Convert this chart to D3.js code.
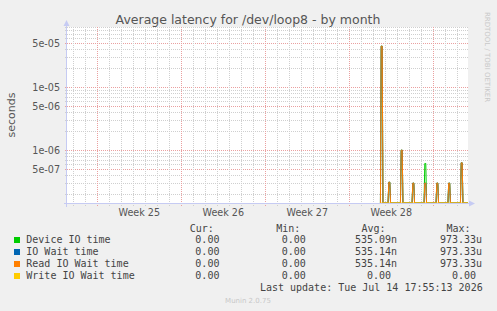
<!DOCTYPE html>
<html lang="en">
<head>
  <meta charset="UTF-8">
  <title>Average latency for /dev/loop8 - by month</title>
  <style>
    body { margin: 0; background: #f0f0f0; }
    svg { display: block; }
    .mono { font-family: "DejaVu Sans Mono", monospace; white-space: pre; }
    .sans { font-family: "DejaVu Sans", sans-serif; }
  </style>
</head>
<body>
  <script src="https://cdn.jsdelivr.net/npm/d3@7"></script>
  <script>
    // samples (one spike per entry), values in seconds
    const spikeTimes = ["2026-07-08T16:48Z", "2026-07-09T08:00Z", "2026-07-10T08:48Z", "2026-07-11T08:00Z",
                        "2026-07-12T08:00Z", "2026-07-13T08:00Z", "2026-07-14T07:48Z", "2026-07-15T08:48Z"];
    const deviceIO  = [4.47e-5, 3.1e-7, 1.0e-6, 3.0e-7, 6.15e-7, 3.0e-7, 3.0e-7, 6.3e-7];
    const ioWait    = [4.47e-5, 3.1e-7, 1.0e-6, 3.0e-7, 3.0e-7, 3.0e-7, 3.0e-7, 6.3e-7];
    const readWait  = [4.47e-5, 3.1e-7, 1.0e-6, 3.0e-7, 3.0e-7, 3.0e-7, 3.0e-7, 6.3e-7];
    const writeWait = [0, 0, 0, 0, 0, 0, 0, 0];
    const dataStart = "2026-07-08T14:00Z";
    const dataEnd = "2026-07-15T21:24Z";

    const seriesNames = ["Device IO time", "IO Wait time", "Read IO Wait time", "Write IO Wait time"];
    const seriesColors = ["#00cc00", "#0066b3", "#ff8000", "#ffcc00"];
    const curVals = [0, 0, 0, 0];
    const minVals = [0, 0, 0, 0];
    const avgVals = [535.09e-9, 535.14e-9, 535.14e-9, 0];
    const maxVals = [973.33e-6, 973.33e-6, 973.33e-6, 0];

    const yTickLabels = [5e-5, 1e-5, 5e-6, 1e-6, 5e-7];
    const yDomain = [1.45e-7, 9.0e-5];
    const xDomain = ["2026-06-12T11:24Z", "2026-07-15T21:24Z"];

    function chart() {
      const W = 497, H = 311;
      const pl = 67, pr = 468, pt = 27, pb = 203;
      const gridMinor = "#cfcfcf", gridMajor = "#eaa0a0", axisColor = "#c6cbf3";

      const svg = d3.select("body").append("svg").attr("width", W).attr("height", H);
      svg.append("rect").attr("width", W).attr("height", H).attr("fill", "#f0f0f0");
      svg.append("rect").attr("x", pl).attr("y", pt).attr("width", pr - pl)
        .attr("height", pb - pt).attr("fill", "#fff");

      const x = d3.scaleUtc().domain(xDomain.map(d => new Date(d))).range([pl, pr]);
      const y = d3.scaleLog().domain(yDomain).range([pb, pt]).clamp(true);
      const yv = v => v > 0 ? y(v) : pb;

      // horizontal grid
      const minorY = [];
      for (let e = -7; e <= -4; e++) {
        for (let k = 1; k <= 9; k++) {
          const v = k * Math.pow(10, e);
          if (v >= yDomain[0] && v <= yDomain[1]) minorY.push(v);
        }
      }
      const isMajor = v => yTickLabels.some(t => Math.abs(t - v) / t < 1e-6);
      const grid = svg.append("g").attr("stroke-dasharray", "1,1").attr("stroke-width", 1);
      grid.selectAll("line.hy").data(minorY).enter().append("line")
        .attr("x1", pl - 2).attr("x2", pr)
        .attr("y1", d => Math.round(y(d)) + 0.5).attr("y2", d => Math.round(y(d)) + 0.5)
        .attr("stroke", d => isMajor(d) ? gridMajor : gridMinor);

      // vertical grid: days and weeks
      const days = d3.utcDay.range(x.domain()[0], x.domain()[1]);
      grid.selectAll("line.vx").data(days).enter().append("line")
        .attr("y1", pt).attr("y2", pb + 3)
        .attr("x1", d => Math.round(x(d)) + 0.5).attr("x2", d => Math.round(x(d)) + 0.5)
        .attr("stroke", d => d.getUTCDay() === 1 ? gridMajor : gridMinor);

      // week labels
      const weeks = d3.utcMonday.range(d3.utcMonday.floor(x.domain()[0]), x.domain()[1])
        .filter(d => { const c = x(d3.utcHour.offset(d, 84)); return c > pl && c < pr; });
      svg.selectAll("text.week").data(weeks).enter().append("text")
        .attr("class", "sans").attr("font-size", 9.6).attr("fill", "#555")
        .attr("text-anchor", "middle")
        .attr("x", d => x(d3.utcHour.offset(d, 84))).attr("y", 215.5)
        .text(d => "Week " + d3.utcFormat("%V")(d));

      // y labels
      const expFmt = v => { const s = v.toExponential(0).split("e"); const n = +s[1];
        return s[0] + "e" + (n < 0 ? "-" : "+") + String(Math.abs(n)).padStart(2, "0"); };
      svg.selectAll("text.yl").data(yTickLabels).enter().append("text")
        .attr("class", "sans").attr("font-size", 9.6).attr("fill", "#555")
        .attr("text-anchor", "end").attr("x", 60).attr("y", d => y(d) + 3.5)
        .text(expFmt);

      // lines: each sample rises and falls back to zero
      const hour = 3600 * 1000;
      function buildPoints(vals) {
        const pts = [[new Date(dataStart), 0]];
        spikeTimes.forEach((t, i) => {
          const tt = new Date(t).getTime();
          pts.push([new Date(tt - 2.5 * hour), 0], [new Date(tt - 1 * hour), vals[i]],
                   [new Date(tt + 1 * hour), vals[i]], [new Date(tt + 2.5 * hour), 0]);
        });
        pts.push([new Date(dataEnd), 0]);
        return pts;
      }
      const line = d3.line().x(d => x(d[0])).y(d => yv(d[1]));
      svg.append("clipPath").attr("id", "clip").append("rect")
        .attr("x", pl).attr("y", pt).attr("width", pr - pl).attr("height", pb - pt + 1);
      const lines = svg.append("g").attr("clip-path", "url(#clip)");
      [deviceIO, ioWait, readWait, writeWait].forEach((vals, i) => {
        lines.append("path").attr("d", line(buildPoints(vals)))
          .attr("fill", "none").attr("stroke", seriesColors[i]).attr("stroke-width", 1);
      });

      // axes with arrows
      svg.append("line").attr("x1", pl - 0.5).attr("x2", pl - 0.5).attr("y1", 24).attr("y2", pb + 4)
        .attr("stroke", axisColor);
      svg.append("line").attr("x1", pl - 3).attr("x2", pr + 2).attr("y1", pb + 0.5).attr("y2", pb + 0.5)
        .attr("stroke", axisColor);
      svg.append("path").attr("d", `M${pl - 3.5},26 L${pl - 0.5},20 L${pl + 2.5},26 Z`).attr("fill", axisColor);
      svg.append("path").attr("d", `M${pr + 1},${pb - 2.5} L${pr + 7},${pb + 0.5} L${pr + 1},${pb + 3.5} Z`)
        .attr("fill", axisColor);

      // title, unit, watermark
      svg.append("text").attr("class", "sans").attr("font-size", 12.5).attr("fill", "#555")
        .attr("text-anchor", "middle").attr("x", 248).attr("y", 23.5)
        .text("Average latency for /dev/loop8 - by month");
      svg.append("text").attr("class", "sans").attr("font-size", 11).attr("fill", "#555")
        .attr("text-anchor", "middle").attr("transform", "translate(15,115) rotate(-90)")
        .text("seconds");
      svg.append("text").attr("class", "sans").attr("font-size", 7).attr("fill", "#c8c8c8")
        .attr("text-anchor", "middle").attr("transform", "translate(485,57) rotate(90)")
        .text("RRDTOOL / TOBI OETIKER");

      // legend
      function fmt(v) {
        if (v === 0) return "  0.00 ";
        const prefixes = { "-3": "m", "-6": "u", "-9": "n" };
        const e = Math.floor(Math.log10(v) / 3) * 3;
        return (v / Math.pow(10, e)).toFixed(2).padStart(6, " ") + (prefixes[e] || "");
      }
      const cols = [183.3, 269.7, 355, 440];
      const heads = ["Cur:", "Min:", "Avg:", "Max:"];
      const legend = svg.append("g").attr("fill", "#444").attr("font-size", 10);
      heads.forEach((h, j) => legend.append("text").attr("class", "mono")
        .attr("x", cols[j] + 6.5).attr("y", 232).text(h));
      seriesNames.forEach((name, i) => {
        const yy = 243 + i * 12;
        legend.append("rect").attr("x", 14).attr("y", yy - 6).attr("width", 6).attr("height", 6)
          .attr("fill", seriesColors[i]);
        legend.append("text").attr("class", "mono").attr("x", 26.3).attr("y", yy).text(name);
        [curVals, minVals, avgVals, maxVals].forEach((arr, j) => {
          legend.append("text").attr("class", "mono").attr("x", cols[j]).attr("y", yy).text(fmt(arr[i]));
        });
      });
      legend.append("text").attr("class", "mono").attr("text-anchor", "end").attr("x", 482.7).attr("y", 291)
        .text("Last update: Tue Jul 14 17:55:13 2026");
      svg.append("text").attr("class", "sans").attr("font-size", 7).attr("fill", "#c8c8c8")
        .attr("text-anchor", "middle").attr("x", 248).attr("y", 303).text("Munin 2.0.75");
    }

    chart();
  </script>
</body>
</html>
